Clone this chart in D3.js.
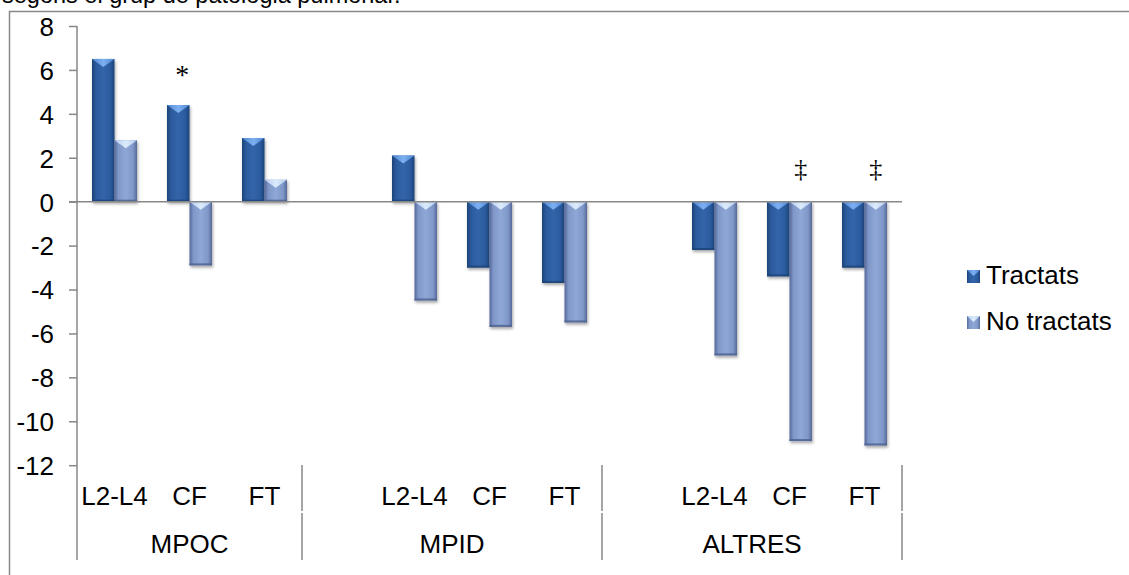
<!DOCTYPE html>
<html>
<head>
<meta charset="utf-8">
<script src="https://cdn.jsdelivr.net/npm/d3@7"></script>
<style>
  html, body { margin: 0; padding: 0; background: #fff; overflow: hidden; }
  svg { display: block; font-family: "Liberation Sans", Arial, sans-serif; }
</style>
</head>
<body>
<svg id="chart" width="1129" height="575"></svg>
<script>
// ---- data ----
const titleText = "segons el grup de patologia pulmonar.";
const subCategories = ["L2-L4", "CF", "FT", "", "L2-L4", "CF", "FT", "", "L2-L4", "CF", "FT"];
const groupLabels = ["MPOC", "MPID", "ALTRES"];
const groupStart = [0, 3, 7];
const groupEnd = [3, 7, 11];
const seriesNames = ["Tractats", "No tractats"];
const tractats = [6.5, 4.4, 2.9, null, 2.1, -3.0, -3.7, null, -2.2, -3.4, -3.0];
const noTractats = [2.8, -2.9, 1.0, null, -4.5, -5.7, -5.5, null, -7.0, -10.9, -11.1];
const yTicks = [8, 6, 4, 2, 0, -2, -4, -6, -8, -10, -12];
const annotations = [
  { cat: 1, series: 0, text: "*" },
  { cat: 9, series: 1, text: "\u2021" },
  { cat: 10, series: 1, text: "\u2021" }
];

// ---- layout ----
const svg = d3.select("#chart");
const axisColor = "#878787";
const plotLeft = 77, plotRight = 902, plotTop = 26, plotBottom = 465.2;

const x = d3.scaleBand().domain(d3.range(subCategories.length)).range([plotLeft, plotRight])
  .paddingInner(0.4).paddingOuter(0.2);
const xs = d3.scaleBand().domain([0, 1]).range([0, x.bandwidth()]);
const y = d3.scaleLinear().domain([-12, 8]).range([plotBottom, plotTop]);

// defs: gradients and shadow
const defs = svg.append("defs");
function hGrad(id, stops) {
  const g = defs.append("linearGradient").attr("id", id).attr("x1", "0%").attr("x2", "100%").attr("y1", "0%").attr("y2", "0%");
  stops.forEach(s => g.append("stop").attr("offset", s[0]).attr("stop-color", s[1]));
}
hGrad("g0", [["0%", "#1c4479"], ["18%", "#2b5a9d"], ["50%", "#3365aa"], ["82%", "#2b5a9d"], ["100%", "#1c4479"]]);
hGrad("g1", [["0%", "#56699a"], ["18%", "#8098c9"], ["50%", "#8fa7d5"], ["82%", "#8098c9"], ["100%", "#56699a"]]);
hGrad("c0", [["0%", "#4f86d2"], ["50%", "#7cb0f0"], ["100%", "#4f86d2"]]);
hGrad("c1", [["0%", "#b6cdee"], ["50%", "#dcebfc"], ["100%", "#b6cdee"]]);
const f = defs.append("filter").attr("id", "shadow").attr("x", "-30%").attr("y", "-10%").attr("width", "160%").attr("height", "130%");
f.append("feDropShadow").attr("dx", 1).attr("dy", 2).attr("stdDeviation", 1.8).attr("flood-color", "#000").attr("flood-opacity", 0.35);

// title (cut off at top, as in the reference)
svg.append("text").attr("x", 2).attr("y", 3).attr("font-size", 23.5).attr("fill", "#000").text(titleText);

// outer border
svg.append("rect").attr("x", 9.5).attr("y", 11.5).attr("width", 1130).attr("height", 600)
  .attr("fill", "none").attr("stroke", axisColor).attr("stroke-width", 1.5);

// y axis
const yAxis = d3.axisLeft(y).tickValues(yTicks).tickSize(8).tickPadding(15).tickFormat(d3.format("d"));
const gy = svg.append("g").attr("transform", `translate(${plotLeft},0)`).call(yAxis);
gy.select(".domain").remove();
gy.selectAll(".tick line").attr("stroke", axisColor).attr("stroke-width", 1.5);
gy.selectAll(".tick text").attr("font-size", 26).attr("fill", "#000")
  .attr("font-family", "'Liberation Sans', Arial, sans-serif").attr("dy", "0.36em")
  .text(d => d < 0 ? "-" + Math.abs(d) : d);
svg.append("line").attr("x1", plotLeft).attr("x2", plotLeft).attr("y1", plotTop).attr("y2", 560)
  .attr("stroke", axisColor).attr("stroke-width", 1.5);

// bars
const series = [tractats, noTractats];
series.forEach((vals, si) => {
  const g = svg.append("g");
  vals.forEach((v, i) => {
    if (v === null) return;
    const bx = x(i) + xs(si);
    const bw = xs.bandwidth();
    const y0 = y(Math.max(0, v)), y1 = y(Math.min(0, v));
    const bar = g.append("g").attr("filter", "url(#shadow)");
    bar.append("rect").attr("x", bx).attr("y", y0).attr("width", bw).attr("height", y1 - y0)
      .attr("fill", `url(#g${si})`);
    bar.append("rect").attr("x", bx).attr("y", y1 - 2).attr("width", bw).attr("height", 2)
      .attr("fill", si === 0 ? "#1d4478" : "#4f6390").attr("opacity", 0.85);
    bar.append("path")
      .attr("d", `M${bx},${y0} L${bx + bw},${y0} L${bx + bw / 2},${y0 + 8} Z`)
      .attr("fill", `url(#c${si})`);
  });
});

// zero line
svg.append("line").attr("x1", plotLeft - 8).attr("x2", plotRight).attr("y1", y(0)).attr("y2", y(0))
  .attr("stroke", axisColor).attr("stroke-width", 1.5);

// annotations
annotations.forEach(a => {
  const ax = x(a.cat) + xs(a.series) + xs.bandwidth() / 2 + (a.series === 0 ? 4 : 0);
  const ay = a.series === 0 ? 84 : 177;
  svg.append("text").attr("x", ax).attr("y", ay).attr("text-anchor", "middle")
    .attr("font-family", "'Liberation Serif', 'Times New Roman', serif")
    .attr("font-size", a.series === 0 ? 28 : 26).attr("fill", "#000").text(a.text);
});

// category labels
subCategories.forEach((c, i) => {
  if (!c) return;
  svg.append("text").attr("x", x(i) + x.bandwidth() / 2).attr("y", 505)
    .attr("text-anchor", "middle").attr("font-size", 26).attr("fill", "#000").text(c);
});
groupLabels.forEach((gname, gi) => {
  const x0 = x(groupStart[gi]) - x.step() * x.paddingInner() / 2;
  const x1 = x(groupEnd[gi] - 1) + x.bandwidth() + x.step() * x.paddingInner() / 2;
  svg.append("text").attr("x", (x0 + x1) / 2).attr("y", 553)
    .attr("text-anchor", "middle").attr("font-size", 26).attr("fill", "#000").text(gname);
  [[465, 511], [513, 560]].forEach(seg => {
    svg.append("line").attr("x1", x1).attr("x2", x1).attr("y1", seg[0]).attr("y2", seg[1])
      .attr("stroke", axisColor).attr("stroke-width", 1.5);
  });
});

// legend
const legend = svg.append("g");
seriesNames.forEach((s, i) => {
  const ly = 277 + i * 46;
  legend.append("rect").attr("x", 967).attr("y", ly - 7).attr("width", 13).attr("height", 13)
    .attr("fill", `url(#g${i})`);
  legend.append("path").attr("d", `M967,${ly - 7} L980,${ly - 7} L973.5,${ly - 1} Z`).attr("fill", `url(#c${i})`);
  legend.append("text").attr("x", 986).attr("y", ly + 7).attr("font-size", 26).attr("fill", "#000").text(s);
});
</script>
</body>
</html>
